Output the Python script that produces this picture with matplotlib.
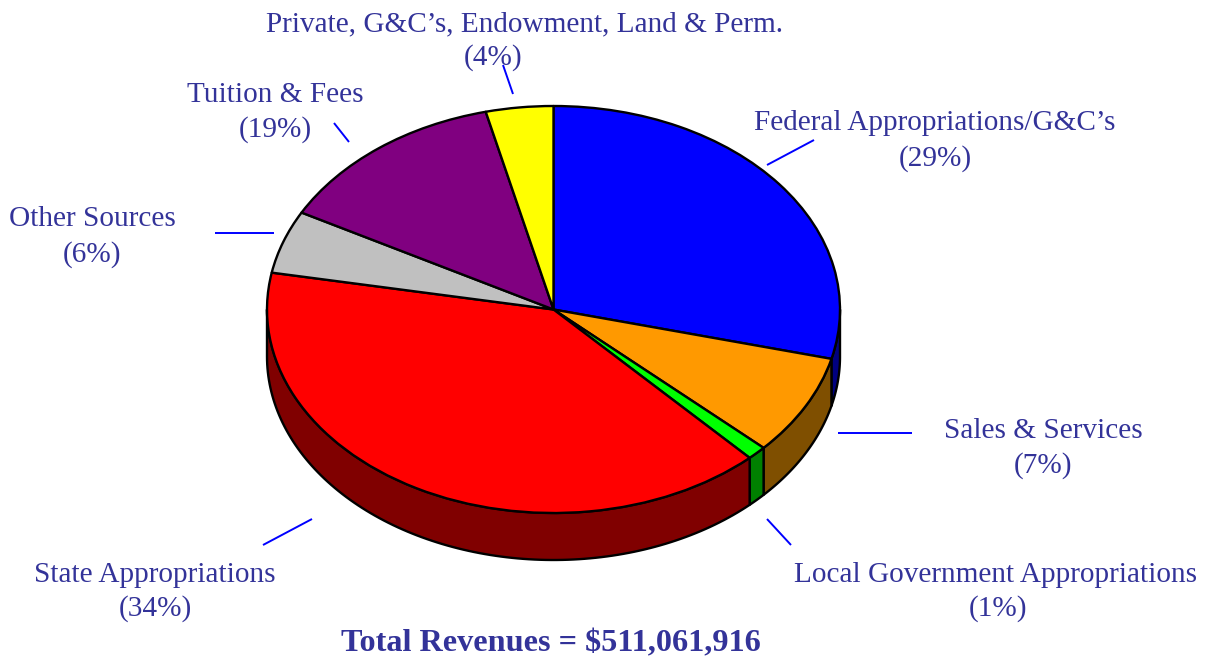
import numpy as np
import matplotlib
matplotlib.use("Agg")
import matplotlib.pyplot as plt

categories = ["Federal Appropriations/G&C\u2019s", "Sales & Services",
              "Local Government Appropriations", "State Appropriations",
              "Other Sources", "Tuition & Fees",
              "Private, G&C\u2019s, Endowment, Land & Perm."]
# share of the circle as actually drawn in the picture
drawn_shares = [28.9, 8.0, 1.1, 39.9, 5.0, 13.3, 3.8]
# percentages as printed on the labels
printed_pct = ["29%", "7%", "1%", "34%", "6%", "19%", "4%"]
top_colors = ["#0000ff", "#ff9900", "#00ff00", "#ff0000", "#c0c0c0", "#800080", "#ffff00"]
side_colors = ["#000080", "#7f4f00", "#008000", "#800000", "#606060", "#400040", "#808000"]
total_label = "Total Revenues = $511,061,916"

W, H = 1212, 663
plt.rcParams["font.family"] = ["Liberation Serif", "DejaVu Serif"]
fig = plt.figure(figsize=(W / 100, H / 100), dpi=100, facecolor="white")

# overlay in pixel coordinates for labels
bg = fig.add_axes([0, 0, 1, 1])
bg.set_xlim(0, W)
bg.set_ylim(H, 0)
bg.axis("off")

# pie axes: one data unit equals the ellipse radii
cx, cy, rx, ry, depth = 553.5, 309.5, 286.5, 203.5, 47
pad = 1.35
ax = fig.add_axes([(cx - pad * rx) / W, 1 - (cy + pad * ry) / H,
                   2 * pad * rx / W, 2 * pad * ry / H])
ax.patch.set_alpha(0)
edge = dict(edgecolor="black", linewidth=1.7, joinstyle="round", zorder=3)
ax.pie(drawn_shares, colors=top_colors, startangle=90, counterclock=False,
       radius=1, center=(0, 0), wedgeprops=edge)
ax.set_aspect("auto")
ax.set_xlim(-pad, pad)
ax.set_ylim(-pad, pad)
d = depth / ry

# side wall of the disc, lower half only
fracs = np.cumsum([0] + drawn_shares) / np.sum(drawn_shares)
for i, col in enumerate(side_colors):
    a0 = 90 - 360 * fracs[i]
    a1 = 90 - 360 * fracs[i + 1]
    lo, hi = max(a1, -180), min(a0, 0)
    if hi <= lo:
        continue
    t = np.radians(np.linspace(hi, lo, 120))
    x, y = np.cos(t), np.sin(t)
    ax.fill(np.r_[x, x[::-1]], np.r_[y, y[::-1] - d], facecolor=col,
            edgecolor="black", linewidth=1.7, joinstyle="round", zorder=2)
ax.axis("off")

# labels: name x, name y, percent x, percent y
label_spots = [(935, 123, 935, 159), (1043, 431, 1043, 466), (995, 575, 998, 609),
               (155, 575, 155, 609), (92, 219, 92, 255), (275, 95, 275, 130),
               (524, 24, 493, 58)]
for name, pct, (x1, y1, x2, y2) in zip(categories, printed_pct, label_spots):
    bg.text(x1, y1, name, color="#333399", fontsize=21.1, ha="center", va="center")
    bg.text(x2, y2, f"({pct})", color="#333399", fontsize=21.1, ha="center", va="center")
bg.text(551, 644, total_label, color="#333399", fontsize=23.2, fontweight="bold",
        ha="center", va="center")

# leader lines
leaders = [((767, 165), (814, 140)), ((838, 433), (912, 433)), ((767, 519), (791, 545)),
           ((312, 519), (263, 545)), ((215, 233), (274, 233)), ((334, 123), (349, 142)),
           ((503, 65), (513, 94))]
for (x0, y0), (x1, y1) in leaders:
    bg.plot([x0, x1], [y0, y1], color="#0000ff", lw=1.4, solid_capstyle="butt")

fig.savefig("out.png", dpi=100, facecolor="white")
